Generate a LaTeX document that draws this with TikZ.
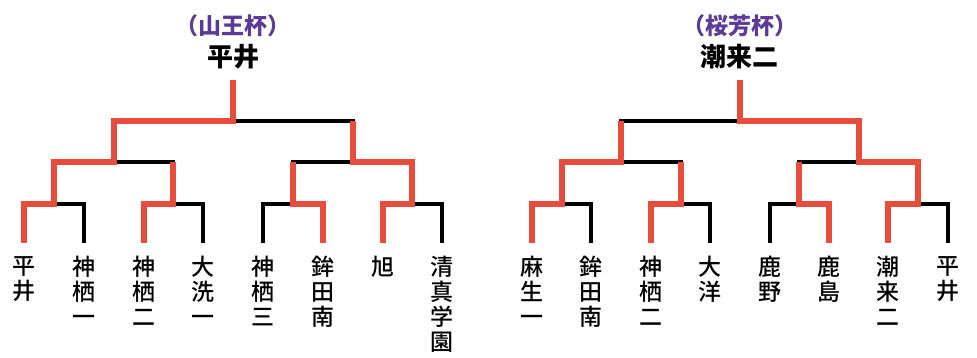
\documentclass[tikz,border=0pt]{standalone}
\usepackage{fontspec}
\usetikzlibrary{positioning}
\newfontfamily\jpfont{Noto Sans CJK JP}
\newfontfamily\jpmedium{Noto Sans CJK JP Medium}
\definecolor{winred}{HTML}{E74C3C}
\definecolor{cuppurple}{HTML}{5B3B95}

\tikzset{
  loser/.style = {line width=4pt, black},
  winner/.style = {line width=6pt, winred},
  team/.style = {anchor=north, align=center, inner sep=0pt,
    font=\jpmedium\fontsize{23}{25}\selectfont},
  champ/.style = {inner sep=0pt, font=\jpfont\bfseries\fontsize{26}{28}\selectfont},
  cupname/.style = {inner sep=0pt, text=cuppurple,
    font=\jpfont\bfseries\fontsize{23}{25}\selectfont}
}

\begin{document}
\begin{tikzpicture}[x=1pt, y=-1pt]
  \useasboundingbox (0,0) rectangle (977,358);
  % bracket points and full black bracket
  \foreach \b/\x/\d in {A/24/59.75, B/532/59.4} {
    \foreach \i in {1,...,8}
      \coordinate (\b\i) at ({\x+\d*(\i-1)},243);
    \foreach \k in {1,...,4}
      \coordinate (\b m\k) at ({\x+\d*(2*\k-1.5)},204);
    \foreach \s in {1,2}
      \coordinate (\b s\s) at ({\x+\d*(4*\s-2.5)},162);
    \coordinate (\b f) at ({\x+\d*3.5},121);
    \coordinate (\b t) at ({\x+\d*3.5},80);
    \foreach \i/\k in {1/1,2/1,3/2,4/2,5/3,6/3,7/4,8/4}
      \draw[loser] (\b\i) |- (\b m\k);
    \foreach \k/\s in {1/1,2/1,3/2,4/2}
      \draw[loser] (\b m\k) |- (\b s\s);
    \foreach \s in {1,2}
      \draw[loser] (\b s\s) |- (\b f);
    \draw[loser] (\b f) -- (\b t);
  }
  % winners, left
  \draw[winner] (A1) |- (Am1) |- (As1) |- (Af) -- (At);
  \draw[winner] (A3) |- (Am2) -- (Am2 |- As1);
  \draw[winner] (A6) |- (Am3) -- (Am3 |- As2);
  \draw[winner] (A7) |- (Am4) |- (As2) -- (As2 |- Af);
  % winners, right
  \draw[winner] (B1) |- (Bm1) |- (Bs1) -- (Bs1 |- Bf);
  \draw[winner] (B3) |- (Bm2) -- (Bm2 |- Bs1);
  \draw[winner] (B6) |- (Bm3) -- (Bm3 |- Bs2);
  \draw[winner] (B7) |- (Bm4) |- (Bs2) |- (Bf) -- (Bt);
  % titles
  \foreach \b/\cup/\champ in {A/（山王杯）/平井, B/（桜芳杯）/潮来二} {
    \node[champ, above=11pt of \b t] (\b champ) {\champ};
    \node[cupname, above=7pt of \b champ] (\b cup) {\cup};
  }
  % teams
  \foreach \team [count=\i] in {{平\\井},{神\\栖\\一},{神\\栖\\二},{大\\洗\\一},
      {神\\栖\\三},{鉾\\田\\南},{旭},{清\\真\\学\\園}}
    \node[team, below=13pt of A\i] (Ateam\i) {\team};
  \foreach \team [count=\i] in {{麻\\生\\一},{鉾\\田\\南},{神\\栖\\二},{大\\洋},
      {鹿\\野},{鹿\\島},{潮\\来\\二},{平\\井}}
    \node[team, below=13pt of B\i] (Bteam\i) {\team};
\end{tikzpicture}
\end{document}
